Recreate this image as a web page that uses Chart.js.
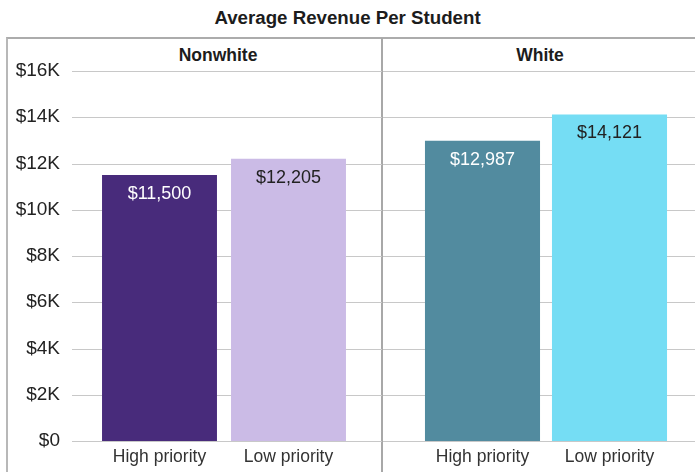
<!DOCTYPE html>
<html lang="en">
<head>
<meta charset="UTF-8">
<title>Average Revenue Per Student</title>
<script src="https://cdn.jsdelivr.net/npm/chart.js"></script>
<style>
    body {
        margin: 0;
        background: #fff;
        font-family: 'Liberation Sans', Arial, sans-serif;
    }
    #wrap {
        position: relative;
        width: 695px;
        height: 472px;
        overflow: hidden;
    }
    .title {
        position: absolute;
        top: 8px;
        left: 0;
        width: 695px;
        text-align: center;
        font-weight: bold;
        font-size: 18.7px;
        line-height: 20px;
        color: #1c1c1c;
    }
    .box {
        position: absolute;
        left: 6px;
        top: 37px;
        width: 800px;
        height: 500px;
        border-left: 2px solid #b8b8b8;
        border-top: 2px solid #acacac;
    }
    .divider {
        position: absolute;
        left: 381px;
        top: 38px;
        width: 2px;
        height: 440px;
        background: #a8a8a8;
    }
    .panel-title {
        position: absolute;
        top: 45px;
        font-weight: bold;
        font-size: 17.5px;
        line-height: 20px;
        color: #1c1c1c;
        text-align: center;
    }
    canvas { position: absolute; top: 38px; }
</style>
</head>
<body>
<div id="wrap">
    <div class="title">Average Revenue Per Student</div>
    <div class="box"></div>
    <div class="divider"></div>
    <div class="panel-title" id="t0" style="left:118px; width:200px;"></div>
    <div class="panel-title" id="t1" style="left:440px; width:200px;"></div>
    <canvas id="leftChart" width="374" height="434" style="left:8px;"></canvas>
    <canvas id="rightChart" width="312" height="434" style="left:383px;"></canvas>
</div>

<script>
    const groups = ['Nonwhite', 'White'];
    const categories = ['High priority', 'Low priority'];
    const nonwhiteValues = [11500, 12205];
    const whiteValues = [12987, 14121];
    const yTicks = [0, 2000, 4000, 6000, 8000, 10000, 12000, 14000, 16000];

    const colors = {
        nonwhite: ['#482b7b', '#cbbbe6'],
        white: ['#528b9f', '#75ddf4'],
        nonwhiteText: ['#ffffff', '#222222'],
        whiteText: ['#ffffff', '#222222']
    };

    document.getElementById('t0').textContent = groups[0];
    document.getElementById('t1').textContent = groups[1];

    const fontFamily = "'Liberation Sans', Arial, sans-serif";
    const money = v => '$' + v.toLocaleString('en-US');
    const kLabel = v => v === 0 ? '$0' : '$' + (v / 1000) + 'K';

    // horizontal grid lines, drawn across the whole panel width
    const panelGrid = {
        id: 'panelGrid',
        beforeDatasetsDraw(chart, args, opts) {
            const ctx = chart.ctx;
            const y = chart.scales.y;
            ctx.save();
            ctx.strokeStyle = '#c8c8c8';
            ctx.lineWidth = 1;
            yTicks.forEach(v => {
                const py = Math.round(y.getPixelForValue(v)) + 0.5;
                ctx.beginPath();
                ctx.moveTo(opts.from, py);
                ctx.lineTo(chart.width, py);
                ctx.stroke();
            });
            ctx.restore();
        }
    };

    const valueLabels = {
        id: 'valueLabels',
        afterDatasetsDraw(chart, args, opts) {
            const ctx = chart.ctx;
            const ds = chart.data.datasets[0];
            ctx.save();
            ctx.font = '18px ' + fontFamily;
            ctx.textAlign = 'center';
            ctx.textBaseline = 'middle';
            chart.getDatasetMeta(0).data.forEach((bar, i) => {
                ctx.fillStyle = opts.colors[i];
                ctx.fillText(money(ds.data[i]), bar.x, bar.y + 19);
            });
            ctx.restore();
        }
    };

    function makeChart(id, values, barColors, textColors, showY, padding, gridFrom, barPct) {
        return new Chart(document.getElementById(id), {
            type: 'bar',
            data: {
                labels: categories,
                datasets: [{
                    data: values,
                    backgroundColor: barColors,
                    barPercentage: barPct,
                    categoryPercentage: 1
                }]
            },
            options: {
                responsive: false,
                animation: false,
                layout: { padding: padding },
                plugins: {
                    legend: { display: false },
                    tooltip: { enabled: false },
                    panelGrid: { from: gridFrom },
                    valueLabels: { colors: textColors }
                },
                scales: {
                    x: {
                        grid: { display: false, drawTicks: false },
                        border: { display: false },
                        ticks: { color: '#333', font: { family: fontFamily, size: 17.5 }, padding: 6 },
                        afterFit(s) { s.height = 31; }
                    },
                    y: {
                        display: showY,
                        min: 0,
                        max: 16000,
                        grid: { display: false, drawTicks: false },
                        border: { display: false },
                        ticks: {
                            color: '#222',
                            font: { family: fontFamily, size: 19 },
                            padding: 35,
                            callback: v => kLabel(v)
                        },
                        afterBuildTicks(s) { s.ticks = yTicks.map(v => ({ value: v })); },
                        afterFit(s) {
                            if (showY) s.width = 87;
                            s.paddingTop = 0;
                            s.paddingBottom = 0;
                        }
                    }
                }
            },
            plugins: [panelGrid, valueLabels]
        });
    }

    makeChart('leftChart', nonwhiteValues, colors.nonwhite, colors.nonwhiteText, true,
        { top: 33, right: 29, left: 0, bottom: 0 }, 64, 0.891);
    makeChart('rightChart', whiteValues, colors.white, colors.whiteText, false,
        { top: 33, right: 22, left: 36, bottom: 0 }, 0, 0.906);
</script>
</body>
</html>
